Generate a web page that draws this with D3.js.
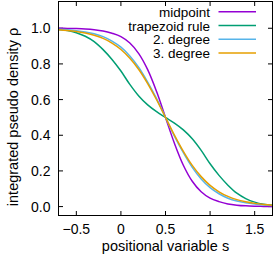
<!DOCTYPE html>
<html><head><meta charset="utf-8">
<script src="https://cdn.jsdelivr.net/npm/d3@7"></script>
<style>body{margin:0;background:#fff;}svg{display:block;font-family:"Liberation Sans",Arial,sans-serif;}</style>
</head><body>
<svg id="c" width="274" height="256"></svg>
<script>
const sValues = [-0.7,-0.6,-0.5,-0.4,-0.3,-0.2,-0.1,0.0,0.1,0.2,0.3,0.4,0.5,0.6,0.7,0.8,0.9,1.0,1.1,1.2,1.3,1.4,1.5,1.6,1.7];
const midpoint  = [1.0,0.999,0.998,0.996,0.992,0.985,0.972,0.953,0.917,0.858,0.768,0.645,0.5,0.355,0.232,0.142,0.083,0.047,0.028,0.015,0.008,0.004,0.002,0.001,0.0];
const trapezoid = [0.993,0.987,0.975,0.955,0.925,0.88,0.825,0.76,0.685,0.62,0.57,0.532,0.5,0.468,0.43,0.38,0.315,0.24,0.175,0.12,0.075,0.045,0.025,0.013,0.007];
const degree2   = [0.994,0.991,0.986,0.979,0.969,0.953,0.928,0.894,0.845,0.78,0.698,0.605,0.5,0.395,0.302,0.22,0.155,0.106,0.072,0.047,0.031,0.021,0.014,0.009,0.006];
const degree3   = [0.992,0.988,0.982,0.973,0.961,0.943,0.917,0.881,0.832,0.769,0.69,0.599,0.5,0.401,0.31,0.231,0.168,0.119,0.083,0.057,0.039,0.027,0.018,0.012,0.008];
const seriesNames = ["midpoint","trapezoid rule","2. degree","3. degree"];
const xTicks = [-0.5,0,0.5,1,1.5];
const yTicks = [0.0,0.2,0.4,0.6,0.8,1.0];

const colors = ["#9400d3","#009e73","#56b4e9","#e69f00"];
const series = [midpoint,trapezoid,degree2,degree3];
const svg = d3.select("#c");
const L=58.5,R=272.5,T=1.5,B=215.5;
const x = d3.scaleLinear().domain([-0.7,1.7]).range([L,R]);
const y = d3.scaleLinear().domain([-0.05,1.15]).range([B,T]);

svg.append("defs").append("clipPath").attr("id","cp").append("rect")
  .attr("x",L).attr("y",T).attr("width",R-L).attr("height",B-T);

const tl=4.5;
const g = svg.append("g").attr("stroke","#000").attr("stroke-width",1);
xTicks.forEach(t=>{
  g.append("line").attr("x1",x(t)).attr("x2",x(t)).attr("y1",B).attr("y2",B-tl);
  g.append("line").attr("x1",x(t)).attr("x2",x(t)).attr("y1",T).attr("y2",T+tl);
});
yTicks.forEach(t=>{
  g.append("line").attr("x1",L).attr("x2",L+tl).attr("y1",y(t)).attr("y2",y(t));
  g.append("line").attr("x1",R).attr("x2",R-tl).attr("y1",y(t)).attr("y2",y(t));
});

svg.selectAll(".xl").data(xTicks).enter().append("text")
  .attr("x",d=>x(d)).attr("y",234).attr("text-anchor","middle").attr("font-size",14)
  .text(d=>d3.format("")(d));
svg.selectAll(".yl").data(yTicks).enter().append("text")
  .attr("x",50.5).attr("y",d=>y(d)+5).attr("text-anchor","end").attr("font-size",14)
  .text(d=>d3.format(".1f")(d));

svg.append("text").attr("x",165.5).attr("y",251).attr("text-anchor","middle").attr("font-size",14.5)
  .text("positional variable s");
svg.append("text").attr("transform","translate(18,117) rotate(-90)").attr("text-anchor","middle").attr("font-size",14.5)
  .text("integrated pseudo density ρ");

const line = d3.line().x((d,i)=>x(sValues[i])).y(d=>y(d)).curve(d3.curveCatmullRom);
const pg = svg.append("g").attr("clip-path","url(#cp)");
series.forEach((s,k)=>{
  pg.append("path").attr("d",line(s)).attr("fill","none").attr("stroke",colors[k]).attr("stroke-width",1.5);
});

seriesNames.forEach((n,k)=>{
  const yy = 11.7 + k*13.8;
  svg.append("text").attr("x",210).attr("y",yy+5).attr("text-anchor","end").attr("font-size",13.5).text(n);
  svg.append("line").attr("x1",218.5).attr("x2",256).attr("y1",yy).attr("y2",yy)
    .attr("stroke",colors[k]).attr("stroke-width",1.5);
});

svg.append("rect").attr("x",L).attr("y",T).attr("width",R-L).attr("height",B-T)
  .attr("fill","none").attr("stroke","#000").attr("stroke-width",1);
</script>
</body></html>
